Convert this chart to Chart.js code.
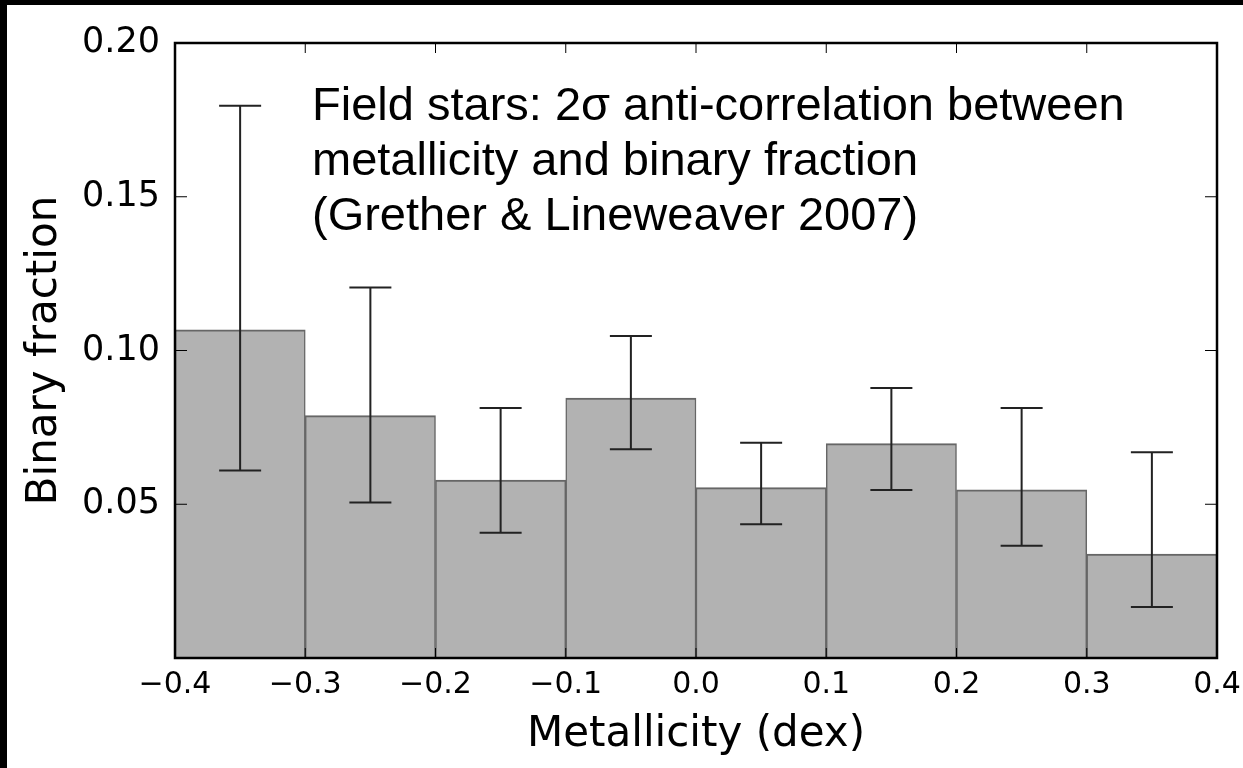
<!DOCTYPE html>
<html><head><meta charset="utf-8">
<script src="https://cdn.jsdelivr.net/npm/chart.js@4.4.1/dist/chart.umd.min.js"></script>
<style>
html,body{margin:0;padding:0;background:#000;width:1243px;height:768px;overflow:hidden}
#wrap{position:absolute;left:7px;top:5px;width:1236px;height:763px;background:#fff}
canvas{display:block}
</style></head><body><div id="wrap"><canvas id="c"></canvas></div>
<script>
// ---- data ----
const binCenters     = [-0.35, -0.25, -0.15, -0.05, 0.05, 0.15, 0.25, 0.35];
const binaryFraction = [0.1067, 0.0788, 0.0579, 0.0845, 0.0554, 0.0697, 0.0547, 0.0338];
const errUpper       = [0.1796, 0.1205, 0.0813, 0.1047, 0.0700, 0.0878, 0.0813, 0.0669];
const errLower       = [0.0610, 0.0506, 0.0407, 0.0679, 0.0435, 0.0546, 0.0365, 0.0166];
const xRange = [-0.4, 0.4];
const yRange = [0, 0.20];
const xStep = 0.1;
const yStep = 0.05;
const xTitle = 'Metallicity (dex)';
const yTitle = 'Binary fraction';
const annotationLines = [
  'Field stars: 2\u03c3 anti-correlation between',
  'metallicity and binary fraction',
  '(Grether & Lineweaver 2007)'
];

function fmtX(v){
  if (Math.abs(v) < 1e-9) return '0.0';
  return (v < 0 ? '\u2212' : '') + Math.abs(v).toFixed(1);
}
function fmtY(v){
  if (Math.abs(v) < 1e-9) return '';
  return v.toFixed(2);
}

const decorPlugin = {
  id: 'decor',
  afterDatasetsDraw(chart){
    const {ctx, chartArea: a, scales: {x, y}} = chart;
    ctx.save();
    // error bars
    ctx.strokeStyle = '#222';
    ctx.lineWidth = 2;
    const capHalf = 21;
    binCenters.forEach((c, i) => {
      const px = x.getPixelForValue(c);
      const yh = y.getPixelForValue(errUpper[i]);
      const yl = y.getPixelForValue(errLower[i]);
      ctx.beginPath();
      ctx.moveTo(px, yh); ctx.lineTo(px, yl);
      ctx.moveTo(px - capHalf, yh); ctx.lineTo(px + capHalf, yh);
      ctx.moveTo(px - capHalf, yl); ctx.lineTo(px + capHalf, yl);
      ctx.stroke();
    });
    // inward ticks
    ctx.strokeStyle = '#000';
    ctx.lineWidth = 1;
    ctx.beginPath();
    x.ticks.forEach(t => {
      const px = x.getPixelForValue(t.value);
      ctx.moveTo(px, a.bottom); ctx.lineTo(px, a.bottom - 10);
      ctx.moveTo(px, a.top); ctx.lineTo(px, a.top + 10);
    });
    y.ticks.forEach(t => {
      const py = y.getPixelForValue(t.value);
      ctx.moveTo(a.left, py); ctx.lineTo(a.left + 12, py);
      ctx.moveTo(a.right, py); ctx.lineTo(a.right - 12, py);
    });
    ctx.stroke();
    // frame
    ctx.lineWidth = 2.5;
    ctx.strokeRect(a.left, a.top, a.right - a.left, a.bottom - a.top);
    // annotation
    ctx.fillStyle = '#000';
    ctx.font = '47px "Liberation Sans", Arial, sans-serif';
    ctx.textBaseline = 'alphabetic';
    ctx.textAlign = 'left';
    annotationLines.forEach((s, i) => {
      ctx.fillText(s, a.left + 137, a.top + 77 + i * 55);
    });
    ctx.restore();
  }
};

new Chart(document.getElementById('c'), {
  type: 'bar',
  data: {
    datasets: [{
      data: binCenters.map((c, i) => ({x: c, y: binaryFraction[i]})),
      backgroundColor: '#b2b2b2',
      borderColor: '#666666',
      borderWidth: {top: 2, left: 1.5, right: 1.5, bottom: 0},
      borderSkipped: 'start',
      barPercentage: 1.0,
      categoryPercentage: 1.0
    }]
  },
  options: {
    responsive: true,
    maintainAspectRatio: false,
    animation: false,
    devicePixelRatio: 1,
    layout: {padding: {top: 38, right: 26, left: 0, bottom: 0}},
    plugins: {legend: {display: false}, tooltip: {enabled: false}},
    scales: {
      x: {
        type: 'linear',
        min: xRange[0], max: xRange[1],
        offset: false,
        grid: {display: false, drawTicks: false},
        border: {display: false},
        ticks: {
          stepSize: xStep, autoSkip: false, maxRotation: 0, padding: 9,
          color: '#000',
          font: {family: 'DejaVu Sans', size: 30},
          callback: v => fmtX(v)
        },
        title: {
          display: true, text: xTitle, color: '#000',
          font: {family: 'DejaVu Sans', size: 42},
          padding: {top: 0, bottom: 8}
        },
        afterFit(s){ s.height = 110; s.paddingRight = 0; s.paddingLeft = 0; }
      },
      y: {
        type: 'linear',
        min: yRange[0], max: yRange[1],
        grid: {display: false, drawTicks: false},
        border: {display: false},
        ticks: {
          stepSize: yStep, padding: 15,
          color: '#000',
          font: {family: 'DejaVu Sans', size: 35},
          callback: v => fmtY(v)
        },
        title: {
          display: true, text: yTitle, color: '#000',
          font: {family: 'DejaVu Sans', size: 42},
          padding: {top: 13, bottom: 0}
        },
        afterFit(s){ s.width = 168; s.paddingTop = 0; s.paddingBottom = 0; }
      }
    }
  },
  plugins: [decorPlugin]
});
</script></body></html>
